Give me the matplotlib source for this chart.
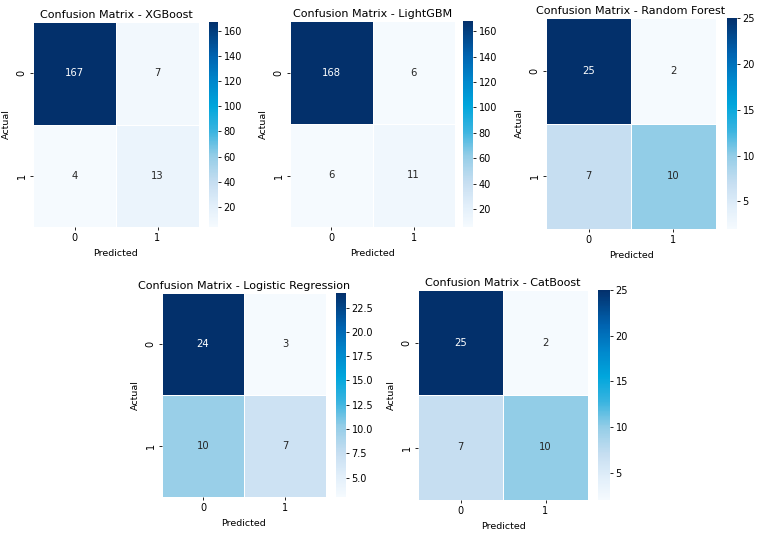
import numpy as np
import matplotlib
matplotlib.use("Agg")
import matplotlib.pyplot as plt
import seaborn as sns
from matplotlib.colors import LinearSegmentedColormap

plt.rcParams['font.family'] = ['DejaVu Sans']

models = ["XGBoost", "LightGBM", "Random Forest", "Logistic Regression", "CatBoost"]
cm_xgb = [[167, 7], [4, 13]]
cm_lgbm = [[168, 6], [6, 11]]
cm_rf = [[25, 2], [7, 10]]
cm_lr = [[24, 3], [10, 7]]
cm_cat = [[25, 2], [7, 10]]
class_labels = ["0", "1"]
cbar_steps = [20, 20, 5, 2.5, 5]

matrices = [cm_xgb, cm_lgbm, cm_rf, cm_lr, cm_cat]

# colours picked off the (rather saturated) reference colorbar
cmap = LinearSegmentedColormap.from_list("blues_sat", [
    (0.00, "#f5fafe"),
    (0.10, "#e2effa"),
    (0.217, "#c6def1"),
    (0.348, "#93cde7"),
    (0.466, "#3ab4e0"),
    (0.589, "#00a6dc"),
    (0.712, "#0087cc"),
    (0.834, "#0063b0"),
    (1.00, "#03306b"),
])

W, H = 759, 533
# pixel boxes (left, top, right, bottom) for heatmap and colorbar
boxes = [
    ((33, 22, 199, 227), (209, 22, 218, 227)),
    ((290, 21, 455, 227), (463, 21, 473, 227)),
    ((546, 18, 716, 229), (727, 18, 737, 229)),
    ((162, 293, 326, 497), (336, 293, 346, 497)),
    ((418, 290, 588, 500), (598, 290, 610, 500)),
]


def px(box):
    l, t, r, b = box
    return [l / W, 1 - b / H, (r - l) / W, (b - t) / H]


fig = plt.figure(figsize=(W / 100, H / 100), dpi=100)

for name, cm, step, (hbox, cbox) in zip(models, matrices, cbar_steps, boxes):
    ax = fig.add_axes(px(hbox))
    cax = fig.add_axes(px(cbox))
    cm = np.array(cm)
    sns.heatmap(cm, annot=True, fmt="d", cmap=cmap, ax=ax, cbar_ax=cax,
                xticklabels=class_labels, yticklabels=class_labels,
                linewidths=0.5, linecolor="white",
                annot_kws={"fontsize": 7.2})
    ax.set_title(f"Confusion Matrix - {name}", fontsize=8, pad=3)
    ax.set_xlabel("Predicted", fontsize=6.8)
    ax.set_ylabel("Actual", fontsize=6.8)
    ax.tick_params(labelsize=7, length=2.5, width=0.6, pad=2)
    ticks = np.arange(step, cm.max() + 0.01, step)
    ticks = ticks[ticks >= cm.min()]
    cax.set_yticks(ticks)
    if step < 5:
        cax.set_yticklabels([f"{v:.1f}" for v in ticks])
    cax.tick_params(labelsize=7, length=2.5, width=0.6, pad=1.5)

fig.savefig("out.png", dpi=100)
